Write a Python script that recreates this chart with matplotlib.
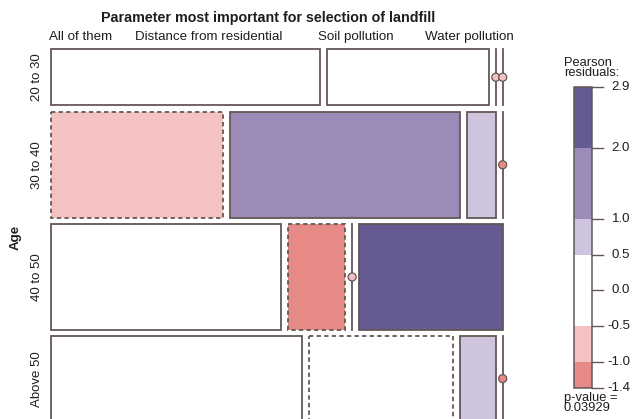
import numpy as np
import matplotlib
matplotlib.use("Agg")
import matplotlib.pyplot as plt
from matplotlib.patches import Rectangle, Circle
from matplotlib.lines import Line2D

plt.rcParams['font.family'] = ['Liberation Sans', 'DejaVu Sans']

# Contingency table: Age (rows) x most important parameter (columns)
ages = ["20 to 30", "30 to 40", "40 to 50", "Above 50"]
params = ["All of them", "Distance from residential", "Soil pollution", "Water pollution"]
counts = np.array([
    [5, 3, 0, 0],
    [6, 8, 1, 0],
    [8, 2, 0, 5],
    [7, 4, 1, 0],
], dtype=float)
p_value_label = "0.03929"
shade_cuts = [0.5, 1.0, 2.0]

# Pearson residuals
n_total = counts.sum()
row_tot = counts.sum(axis=1)
col_tot = counts.sum(axis=0)
expected = np.outer(row_tot, col_tot) / n_total
resid = (counts - expected) / np.sqrt(expected)
rmin, rmax = resid.min(), resid.max()

POS = ["#cfc4de", "#9b8bb6", "#665a92"]
NEG = ["#f5c2c2", "#e68a87"]
EDGE = "#635756"
TXT = "#1e1e1e"


def shade(r):
    a = abs(r)
    if a <= shade_cuts[0]:
        return "white"
    lvl = 0 if a <= shade_cuts[1] else (1 if a <= shade_cuts[2] else 2)
    if r > 0:
        return POS[lvl]
    return NEG[min(lvl, 1)]


fig = plt.figure(figsize=(6.44, 4.19), dpi=100)
ax = fig.add_axes([0, 0, 1, 1])
ax.set_xlim(0, 644)
ax.set_ylim(419, 0)
ax.axis("off")

# mosaic layout box (pixel units)
x0, x1 = 51.0, 502.7
y0, y1 = 49.0, 421.0
gx, gy = 6.9, 6.3
ncol = counts.shape[1]
nrow = counts.shape[0]
avail_h = (y1 - y0) - gy * (nrow - 1)
avail_w = (x1 - x0) - gx * (ncol - 1)

ytop = y0
for i in range(nrow):
    h = avail_h * row_tot[i] / n_total
    xl = x0
    for j in range(ncol):
        w = avail_w * counts[i, j] / row_tot[i]
        r = resid[i, j]
        ls = (0, (2.4, 1.8)) if r < 0 else "solid"
        if counts[i, j] > 0:
            ax.add_patch(Rectangle((xl, ytop), w, h, facecolor=shade(r),
                                   edgecolor=EDGE, lw=1.3, linestyle=ls))
        else:
            ax.add_line(Line2D([xl, xl], [ytop, ytop + h], color=EDGE, lw=1.3))
            ax.add_patch(Circle((xl, ytop + h / 2), 4.0, facecolor=shade(r),
                                edgecolor=EDGE, lw=0.9, zorder=3))
        xl += w + gx
    ax.text(37, ytop + h / 2, ages[i], rotation=90, ha="center", va="center",
            fontsize=9.5, color=TXT)
    ytop += h + gy

# titles and column labels
ax.text(268, 18, "Parameter most important for selection of landfill",
        ha="center", va="center", fontsize=10.3, fontweight="bold", color=TXT)
for lab, xc in zip(params, [80.5, 209, 355.5, 469]):
    ax.text(xc, 37, lab, ha="center", va="center", fontsize=9.6, color=TXT)
ax.text(16, 237, "Age", rotation=90, ha="center", va="center",
        fontsize=9.6, fontweight="bold", color=TXT)

# residual legend
lx0, lx1 = 574.3, 591.7
ly_top, ly_bot = 86.7, 388.3


def ly(v):
    return ly_top + (rmax - v) / (rmax - rmin) * (ly_bot - ly_top)


edges = [rmin, -1.0, -0.5, 0.5, 1.0, 2.0, rmax]
seg_cols = [NEG[1], NEG[0], "white", POS[0], POS[1], POS[2]]
for a, b, c in zip(edges[:-1], edges[1:], seg_cols):
    ax.add_patch(Rectangle((lx0, ly(b)), lx1 - lx0, ly(a) - ly(b),
                           facecolor=c, edgecolor="none"))
ax.add_patch(Rectangle((lx0, ly(rmax)), lx1 - lx0, ly(rmin) - ly(rmax),
                       facecolor="none", edgecolor=EDGE, lw=1.1))
ticks = [rmax, 2.0, 1.0, 0.5, 0.0, -0.5, -1.0, rmin]
for t in ticks:
    yy = ly(t)
    ax.add_line(Line2D([lx1, lx1 + 11], [yy, yy], color=EDGE, lw=1.0))
    ax.text(630, yy, f"{t:.1f}", ha="right", va="center", fontsize=9.5,
            color=TXT)
ax.text(564, 68, "Pearson\nresiduals:", ha="left", va="center", fontsize=9.3,
        linespacing=0.85, color=TXT)
ax.text(564, 403, "p-value =\n" + p_value_label, ha="left", va="center",
        fontsize=9.3, linespacing=0.85, color=TXT)

fig.savefig("out.png", dpi=100)
